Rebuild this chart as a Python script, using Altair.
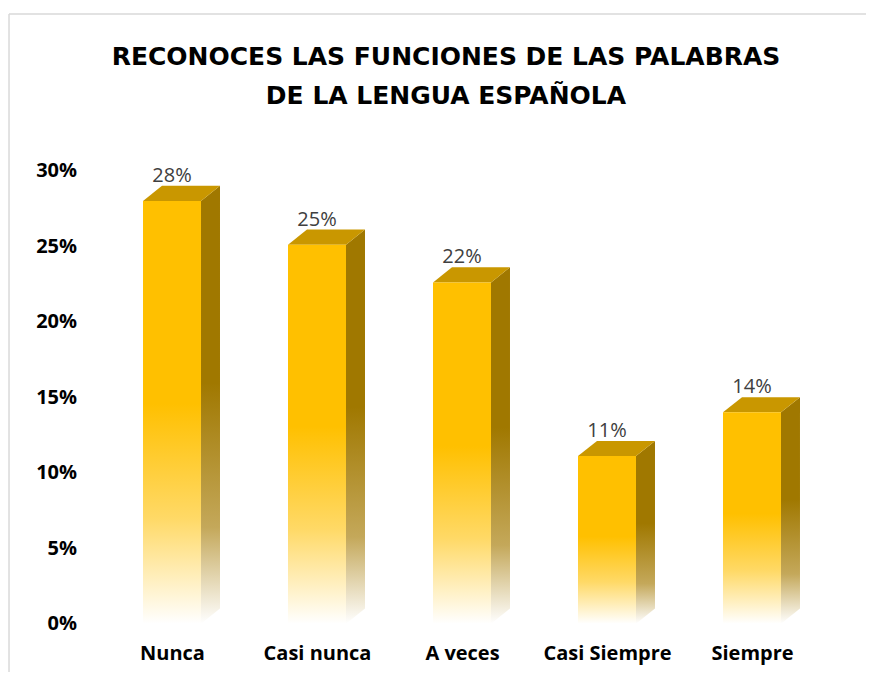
import altair as alt
import pandas as pd

categories = ["Nunca", "Casi nunca", "A veces", "Casi Siempre", "Siempre"]
values = [0.28, 0.251, 0.226, 0.111, 0.14]
value_labels = ["28%", "25%", "22%", "11%", "14%"]
title_lines = ["RECONOCES LAS FUNCIONES DE LAS PALABRAS", "DE LA LENGUA ESPAÑOLA"]

HALF = 0.2      # half bar width in x units
DX = 0.131      # depth in x units
DY = 0.01       # depth in y units

front_rows, side_rows, top_rows, lab_rows = [], [], [], []
for i, (c, v, lab) in enumerate(zip(categories, values, value_labels)):
    cx = i + 0.5
    xl, xr = cx - HALF, cx + HALF
    front_rows.append({"cat": c, "x": xl, "x2": xr, "y": v, "y2": 0.0})
    side_rows += [
        {"cat": c, "x": xr, "y": v, "y2": 0.0},
        {"cat": c, "x": xr + DX, "y": v + DY, "y2": DY},
    ]
    top_rows += [
        {"cat": c, "x": xl, "y": v, "y2": v},
        {"cat": c, "x": xl + DX, "y": v + DY, "y2": v},
        {"cat": c, "x": xr, "y": v + DY, "y2": v},
        {"cat": c, "x": xr + DX, "y": v + DY, "y2": v + DY},
    ]
    lab_rows.append({"cat": c, "x": cx, "y": v, "label": lab})

front_df = pd.DataFrame(front_rows)
side_df = pd.DataFrame(side_rows)
top_df = pd.DataFrame(top_rows)
lab_df = pd.DataFrame(lab_rows)

FONT = "Open Sans"
TITLE_FONT = "DejaVu Sans"
label_expr = "[" + ",".join("'" + c + "'" for c in categories) + "][floor(datum.value)]"

xscale = alt.Scale(domain=[0, 5], nice=False, zero=False)
yscale = alt.Scale(domain=[0, 0.30], nice=False)

x_axis = alt.Axis(values=[i + 0.5 for i in range(len(categories))], labelExpr=label_expr,
                  title=None, ticks=False, domain=False, grid=False, labelFont=FONT,
                  labelFontSize=20, labelFontWeight="bold", labelColor="#000000",
                  labelPadding=20)
y_axis = alt.Axis(values=[0, 0.05, 0.10, 0.15, 0.20, 0.25, 0.30], format=".0%",
                  title=None, ticks=False, domain=False, grid=False, labelFont=FONT,
                  labelFontSize=20, labelFontWeight="bold", labelColor="#000000",
                  labelPadding=23)

front_grad = alt.Gradient(gradient="linear", x1=0, y1=0, x2=0, y2=1, stops=[
    alt.GradientStop(color="#FFC000", offset=0),
    alt.GradientStop(color="#FFC000", offset=0.48),
    alt.GradientStop(color="#FFD966", offset=0.75),
    alt.GradientStop(color="#FFFFFF", offset=1),
])
side_grad = alt.Gradient(gradient="linear", x1=0, y1=0, x2=0, y2=1, stops=[
    alt.GradientStop(color="#A07800", offset=0),
    alt.GradientStop(color="#A07800", offset=0.45),
    alt.GradientStop(color="#C4A85A", offset=0.78),
    alt.GradientStop(color="#FFFFFF", offset=1),
])

side = alt.Chart(side_df).mark_area(color=side_grad, interpolate="linear").encode(
    x=alt.X("x:Q", scale=xscale, axis=x_axis),
    y=alt.Y("y:Q", scale=yscale, axis=y_axis, stack=None),
    y2="y2:Q",
    detail="cat:N",
)
top = alt.Chart(top_df).mark_area(color="#C99700", interpolate="linear").encode(
    x=alt.X("x:Q", scale=xscale),
    y=alt.Y("y:Q", scale=yscale, stack=None),
    y2="y2:Q",
    detail="cat:N",
)
front = alt.Chart(front_df).mark_bar(color=front_grad).encode(
    x=alt.X("x:Q", scale=xscale),
    x2="x2:Q",
    y=alt.Y("y:Q", scale=yscale),
    y2="y2:Q",
)
labels = alt.Chart(lab_df).mark_text(font=FONT, fontSize=20, color="#404040",
                                     baseline="middle", dy=-25).encode(
    x=alt.X("x:Q", scale=xscale),
    y=alt.Y("y:Q", scale=yscale),
    text="label:N",
)

one = pd.DataFrame({"a": [0]})
title1 = alt.Chart(one).mark_text(font=TITLE_FONT, fontSize=25, fontWeight="bold", color="#000000",
                                  baseline="middle", align="center").encode(
    x=alt.value(346.5), y=alt.value(-113.5), text=alt.value(title_lines[0]))
title2 = alt.Chart(one).mark_text(font=TITLE_FONT, fontSize=25, fontWeight="bold", color="#000000",
                                  baseline="middle", align="center").encode(
    x=alt.value(346.5), y=alt.value(-75), text=alt.value(title_lines[1]))

border_top = alt.Chart(one).mark_rule(color="#D9D9D9", strokeWidth=1.5).encode(
    x=alt.value(-90.5), x2=alt.value(800), y=alt.value(-156.7))
border_left = alt.Chart(one).mark_rule(color="#D9D9D9", strokeWidth=1.5).encode(
    x=alt.value(-90.5), y=alt.value(-156.7), y2=alt.value(600))

chart = alt.layer(border_top, border_left, side, top, front, labels, title1, title2).properties(
    width=725,
    height=453,
    autosize=alt.AutoSizeParams(type="none"),
    padding={"left": 91.5, "top": 162.7, "right": 41.5, "bottom": 48},
    background="#FFFFFF",
).configure_view(stroke=None)

chart.save("out.html", embed_options={"renderer": "svg", "actions": False})
